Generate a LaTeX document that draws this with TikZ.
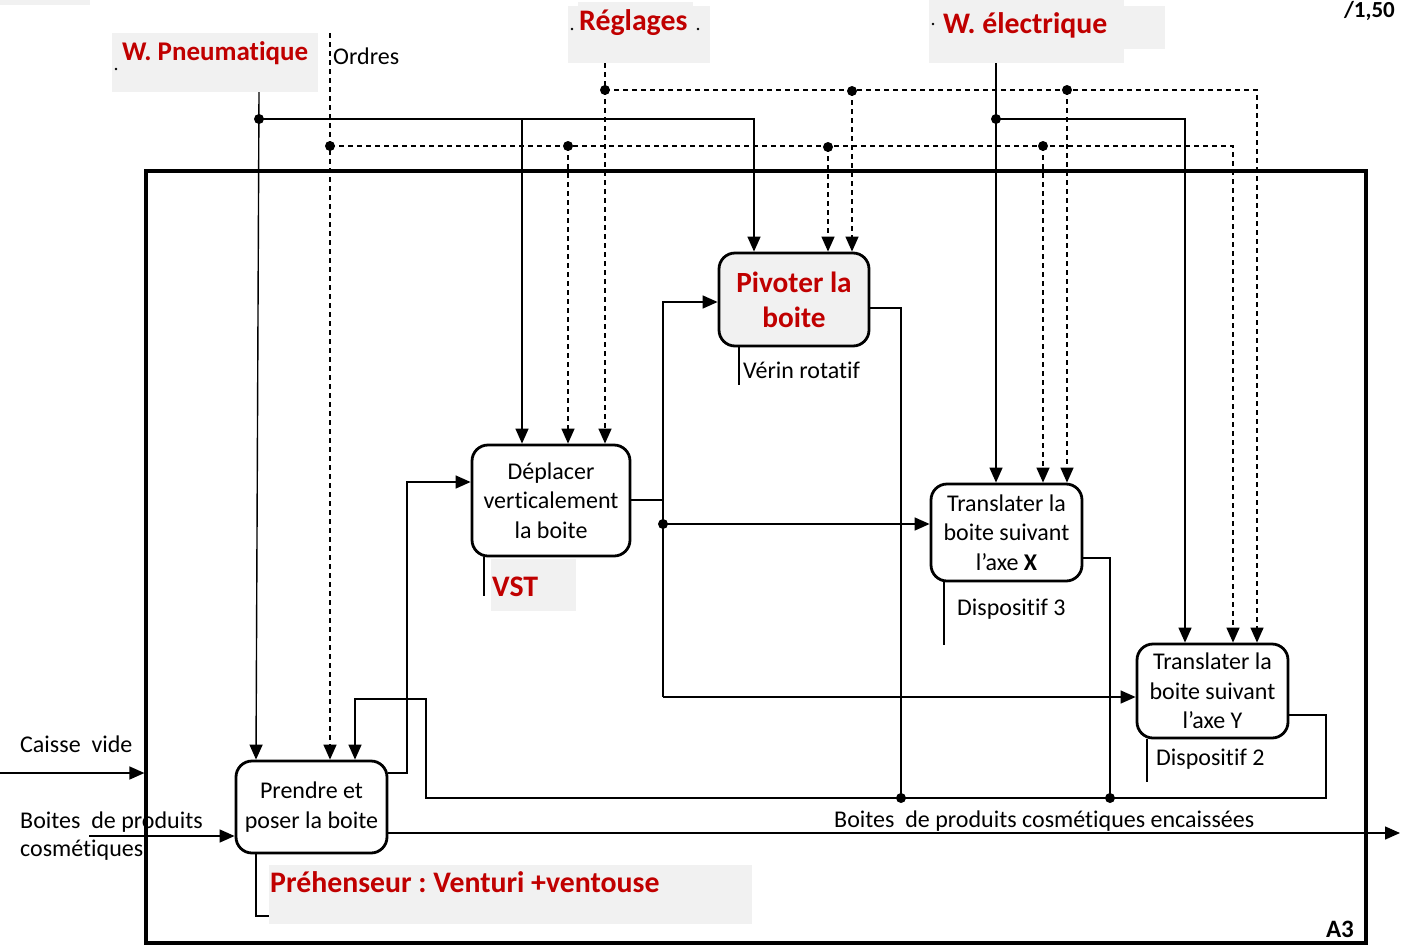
\documentclass[tikz,border=0pt]{standalone}
\usepackage{fontspec}
\setmainfont[Ligatures=NoCommon]{Carlito}
\usetikzlibrary{arrows.meta}
\definecolor{redlab}{HTML}{C00000}
\definecolor{graybg}{HTML}{F1F1F1}
\frenchspacing
\begin{document}
\begin{tikzpicture}[x=1pt,y=-1pt,
  conn/.style={line width=1.4pt},
  dconn/.style={line width=1.4pt,dash pattern=on 5pt off 4pt},
  arr/.style={-{Triangle[length=15pt,width=13pt]}},
  jdot/.style={circle,fill=black,inner sep=0pt,minimum size=10pt},
  tdot/.style={circle,fill=black,inner sep=0pt,minimum size=2.6pt},
  fbox/.style={draw,line width=2.8pt,rounded corners=16pt,align=center,inner sep=0pt,font=\fontsize{24}{29.4}\selectfont},
  lbl/.style={inner sep=0pt,anchor=base west,font=\fontsize{24}{28}\selectfont},
  redl/.style={inner sep=0pt,anchor=base west,text=redlab,font=\fontsize{29.8}{35}\selectfont\bfseries},
  gbox/.style={fill=graybg,draw=none,inner sep=0pt}
]
\useasboundingbox (0,0) rectangle (1407,945);

% grey label backgrounds
\fill[graybg] (0,0) rectangle (90,5);
\node[gbox,minimum width=206pt,minimum height=59pt] (pneu) at (215,62.5) {};
\fill[graybg] (578,2) rectangle (693,7);
\node[gbox,minimum width=142pt,minimum height=57pt] (regl) at (639,34.5) {};
\fill[graybg] (1124,6) rectangle (1165,49);
\node[gbox,minimum width=195pt,minimum height=63pt] (elec) at (1026.5,31.5) {};
\node[gbox,minimum width=85pt,minimum height=52pt] (vstbg) at (533.5,585) {};
\node[gbox,minimum width=483pt,minimum height=59pt] (prehbg) at (510.5,894.5) {};

% frame
\node[draw,line width=3.2pt,minimum width=1220pt,minimum height=772pt,inner sep=0pt] (frame) at (756,557) {};

% function boxes
\node[fbox,fill=graybg,minimum width=150pt,minimum height=93pt,text=redlab,font=\fontsize{29.3}{35}\selectfont\bfseries] (pivot) at (794,299.5) {Pivoter la\\boite};
\node[fbox,fill=white,minimum width=158pt,minimum height=111pt] (depl) at (551,500.5) {Déplacer\\verticalement\\la boite};
\node[fbox,fill=white,minimum width=151pt,minimum height=97pt] (trx) at (1006.5,532.5) {Translater la\\boite suivant\\l’axe \textbf{X}};
\node[fbox,fill=white,minimum width=151pt,minimum height=94pt] (try) at (1212.5,691) {Translater la\\boite suivant\\l’axe Y};
\node[fbox,fill=white,minimum width=151pt,minimum height=92pt] (prendre) at (311.5,807) {Prendre et\\poser la boite};

% labels
\node[redl,font=\fontsize{27}{32}\selectfont\bfseries] (tpneu) at (122,60) {W. Pneumatique};
\node[tdot] (d1) at (116,69) {};
\node[lbl] (tord) at (333,64) {Ordres};
\node[redl] (treg) at (579,30) {Réglages};
\node[tdot] (d2) at (572,29) {};
\node[tdot] (d3) at (698,29) {};
\node[redl] (telec) at (943,33) {W. électrique};
\node[tdot] (d4) at (933,24) {};
\node[inner sep=0pt,anchor=base east,font=\fontsize{23}{28}\selectfont\bfseries] (note) at (1395,17) {/1,50};
\node[lbl] (tverin) at (743,378) {Vérin rotatif};
\node[redl] (tvst) at (492,596) {VST};
\node[lbl] (tdisp3) at (957,615) {Dispositif 3};
\node[lbl] (tdisp2) at (1156,765) {Dispositif 2};
\node[lbl] (tcaisse) at (20,752) {Caisse\ \ vide};
\node[lbl] (tboites) at (20,828) {Boites\ \ de produits};
\node[lbl] (tcosm) at (20,856) {cosmétiques};
\node[lbl] (tout) at (834,827) {Boites\ \ de produits cosmétiques encaissées};
\node[redl] (tpreh) at (270,892) {Préhenseur : Venturi +ventouse};
\node[inner sep=0pt,anchor=base east,font=\fontsize{25}{28}\selectfont\bfseries] (ta3) at (1354,937) {A3};

% W. Pneumatique (solid)
\draw[conn,arr] (pneu.south -| 259,0) -- (prendre.north -| 256,0);
\node[jdot] (jp) at (259,119) {};
\draw[conn,arr] (jp.center) -- (754,119) -- (pivot.north -| 754,0);
\draw[conn,arr] (522,119) -- (depl.north -| 522,0);

% Ordres (dashed)
\coordinate (ord) at (330,33);
\draw[dconn,arr] (ord) -- (prendre.north -| 330,0);
\node[jdot] (jo) at (330,146) {};
\draw[dconn,arr] (jo.center) -- (1233,146) -- (try.north -| 1233,0);
\node[jdot] (jo2) at (568,146) {};
\draw[dconn,arr] (jo2.center) -- (depl.north -| 568,0);
\node[jdot] (jo3) at (828,147) {};
\draw[dconn,arr] (jo3.center) -- (pivot.north -| 828,0);
\node[jdot] (jo4) at (1043,146) {};
\draw[dconn,arr] (jo4.center) -- (trx.north -| 1043,0);

% Reglages (dashed)
\draw[dconn,arr] (regl.south -| 605,0) -- (depl.north -| 605,0);
\node[jdot] (jr) at (605,90) {};
\draw[dconn,arr] (jr.center) -- (1257,90) -- (try.north -| 1257,0);
\node[jdot] (jr2) at (852,91) {};
\draw[dconn,arr] (jr2.center) -- (pivot.north -| 852,0);
\node[jdot] (jr3) at (1067,90) {};
\draw[dconn,arr] (jr3.center) -- (trx.north -| 1067,0);

% W. electrique (solid)
\draw[conn,arr] (elec.south -| 996,0) -- (trx.north -| 996,0);
\node[jdot] (je) at (996,119) {};
\draw[conn,arr] (je.center) -- (1185,119) -- (try.north -| 1185,0);

% mechanisms
\draw[conn] (pivot.south -| 739,0) -- (739,385);
\draw[conn] (depl.south -| 484,0) -- (484,596);
\draw[conn] (trx.south -| 944,0) -- (944,645);
\draw[conn] (try.south -| 1147,0) -- (1147,782);
\draw[conn] (prendre.south -| 256,0) -- (256,916) -- (prehbg.west |- 0,916);

% flows between functions
\draw[conn,arr] (prendre.east |- 0,773) -- (407,773) -- (407,482) -- (depl.west |- 0,482);
\draw[conn] (depl.east |- 0,500) -- (663,500);
\draw[conn,arr] (663,697) -- (663,302) -- (pivot.west |- 0,302);
\node[jdot] (jd) at (663,524) {};
\draw[conn,arr] (jd.center) -- (trx.west |- 0,524);
\draw[conn,arr] (663,697) -- (try.west |- 0,697);
\draw[conn] (pivot.east |- 0,308) -- (901,308) -- (901,798);
\draw[conn] (trx.east |- 0,558) -- (1110,558) -- (1110,798);
\draw[conn,arr] (try.east |- 0,715) -- (1326,715) -- (1326,798) -- (426,798) -- (426,699) -- (355,699) -- (prendre.north -| 355,0);
\node[jdot] (jb1) at (901,798) {};
\node[jdot] (jb2) at (1110,798) {};

% inputs / output
\coordinate (cv) at (0,773);
\draw[conn,arr] (cv) -- (frame.west |- 0,773);
\coordinate (bp) at (89,836);
\draw[conn,arr] (bp) -- (prendre.west |- 0,836);
\coordinate (out) at (1400,833);
\draw[conn,arr] (prendre.east |- 0,833) -- (out);
\end{tikzpicture}
\end{document}
